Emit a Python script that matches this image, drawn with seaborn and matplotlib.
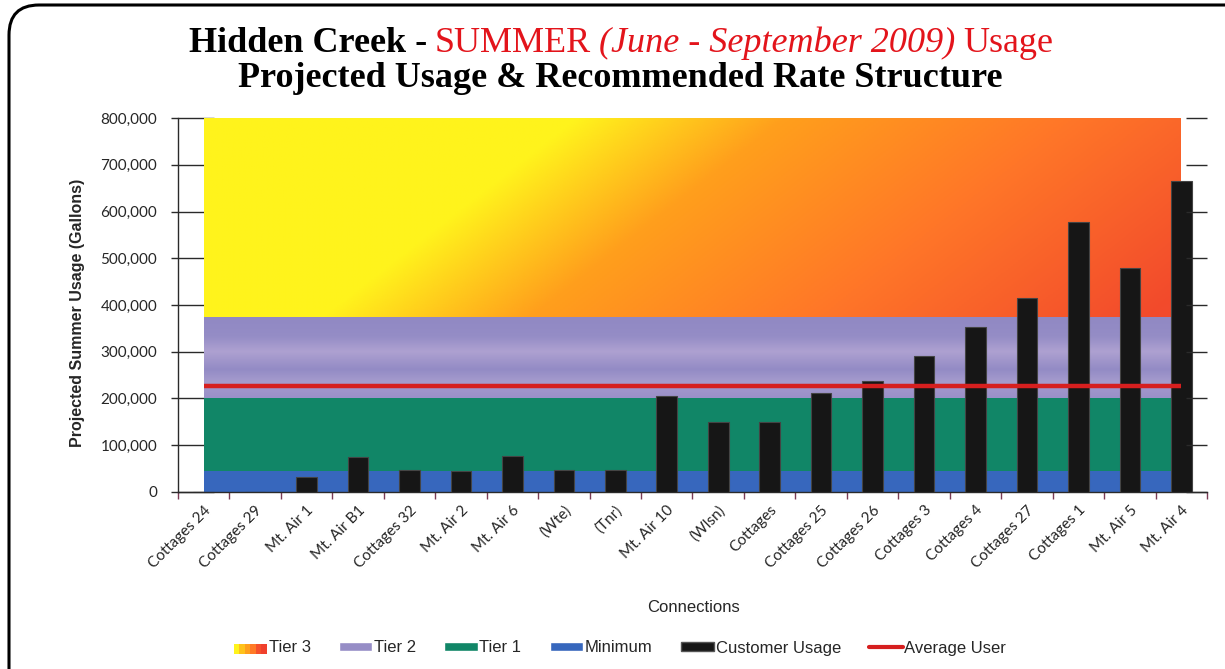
import numpy as np
import matplotlib
matplotlib.use("Agg")
import matplotlib.pyplot as plt
import seaborn as sns
from matplotlib.patches import Patch, Rectangle, FancyBboxPatch
from matplotlib.lines import Line2D
from matplotlib.colors import LinearSegmentedColormap
from matplotlib.legend_handler import HandlerBase

# data
connections = ['Cottages 24', 'Cottages 29', 'Mt. Air 1', 'Mt. Air B1', 'Cottages 32',
               'Mt. Air 2', 'Mt. Air 6', '(Wte)', '(Tnr)', 'Mt. Air 10', '(Wlsn)',
               'Cottages', 'Cottages 25', 'Cottages 26', 'Cottages 3', 'Cottages 4',
               'Cottages 27', 'Cottages 1', 'Mt. Air 5', 'Mt. Air 4']
usage = [0, 0, 33000, 74000, 47000, 44000, 78000, 47000, 47000, 205000, 150000,
         150000, 212000, 238000, 290000, 354000, 414000, 578000, 480000, 666000]

# rate tiers (top of each band, gallons)
minimum_top = 45000
tier1_top = 200000
tier2_top = 375000
tier3_top = 800000
average_user = 227000

yticks = [0, 100000, 200000, 300000, 400000, 500000, 600000, 700000, 800000]

C_MIN = '#3767bd'
C_T1 = '#118667'
C_T2 = '#968dc6'
C_BAR = '#161616'
C_AVG = '#d61f1f'
C_RED = '#e3141b'

sns.set_theme(style='white')
plt.rcParams['font.family'] = ['Lato', 'DejaVu Sans']

fig = plt.figure(figsize=(12.25, 6.69), dpi=100)
ax = fig.add_axes([0.1453, 0.2646, 0.8400, 0.5590])

xs = np.arange(len(connections))
ones = np.ones(len(connections))
polys = ax.stackplot(xs, ones * minimum_top, ones * (tier1_top - minimum_top),
                     ones * (tier2_top - tier1_top), ones * (tier3_top - tier2_top),
                     colors=[C_MIN, C_T1, C_T2, '#ff9a1e'], linewidth=0, zorder=1)

# tier 3: diagonal yellow -> orange -> red gradient
cm3 = LinearSegmentedColormap.from_list('t3', [(0, '#fff31c'), (0.25, '#ff9f1c'),
                                               (0.6, '#ff7628'), (1, '#f24a2c')])
u = np.linspace(0, 1, 400)[None, :]
v = np.linspace(1, 0, 200)[:, None]
s = u - 0.22 - 0.26 * v
t = np.clip((s + 0.1) / 0.85, 0, 1)
im3 = ax.imshow(cm3(t), extent=[xs[0], xs[-1], tier2_top, tier3_top],
                aspect='auto', interpolation='bilinear', zorder=1.5)
im3.set_clip_path(polys[3].get_paths()[0], transform=ax.transData)

# tier 2: soft horizontal stripes
cm2 = LinearSegmentedColormap.from_list('t2', [(0, '#9a90c8'), (0.2, '#a59bcd'),
                                               (0.35, '#938bc5'), (0.57, '#aea1d1'),
                                               (0.75, '#958dc6'), (1, '#9088c3')])
g = np.linspace(1, 0, 200)[:, None] * np.ones((1, 10))
im2 = ax.imshow(cm2(g), extent=[xs[0], xs[-1], tier1_top, tier2_top],
                aspect='auto', interpolation='bilinear', zorder=1.5)
im2.set_clip_path(polys[2].get_paths()[0], transform=ax.transData)

sns.barplot(x=connections, y=usage, color=C_BAR, saturation=1, width=0.4,
            edgecolor='#444444', linewidth=0.8, ax=ax, zorder=3)

ax.plot([xs[0], xs[-1]], [average_user, average_user], color=C_AVG, lw=3.2,
        solid_capstyle='butt', zorder=4)

ax.set_xlim(-0.5, len(connections) - 0.5)
ax.set_ylim(0, tier3_top)
ax.set_yticks(yticks)
ax.set_yticklabels([f'{v:,}' for v in yticks])
ax.set_xticks(xs)
ax.set_xticklabels(connections, rotation=45, ha='right', rotation_mode='anchor')
ax.set_xticks(np.arange(-0.5, len(connections)), minor=True)
ax.set_xlabel('')
ax.set_ylabel('')

for side in ['top', 'right']:
    ax.spines[side].set_visible(False)
for side in ['left', 'bottom']:
    ax.spines[side].set_color('#2a2a2a')
    ax.spines[side].set_linewidth(1.0)

ax.tick_params(axis='y', which='major', direction='in', length=26, width=1,
               color='#2a2a2a', pad=15, labelsize=11, left=True)
ax.tick_params(axis='x', which='major', length=0, pad=8, labelsize=11)
ax.tick_params(axis='x', which='minor', direction='out', length=5, width=1,
               color='#7a3b55', bottom=True)

# short outward part of the left ticks
left_out = ax.secondary_yaxis('left')
left_out.set_yticks(yticks)
left_out.set_yticklabels([])
left_out.spines['left'].set_visible(False)
left_out.tick_params(direction='out', length=5, width=1, color='#2a2a2a', left=True)

ax2 = ax.twinx()
ax2.set_ylim(0, tier3_top)
ax2.set_yticks(yticks)
ax2.set_yticklabels([])
for side in ax2.spines:
    ax2.spines[side].set_visible(False)
ax2.tick_params(axis='y', direction='in', length=15, width=1, color='#2a2a2a', right=True)

fig.text(0.063, 1 - 313 / 669, 'Projected Summer Usage (Gallons)', rotation=90,
         ha='center', va='center', family='Liberation Sans', fontweight='bold', fontsize=11.5)
fig.text(0.566, 1 - 607 / 669, 'Connections', ha='center', va='center',
         family='Liberation Sans', fontsize=12)


# legend
class GradientHandler(HandlerBase):
    def create_artists(self, legend, orig, xd, yd, w, h, fontsize, trans):
        cols = ['#fff31c', '#ffc21a', '#ff9f1c', '#ff7a26', '#f5502c', '#f0402c']
        n = len(cols)
        return [Rectangle((xd + w * i / n, yd), w / n, h, facecolor=c, edgecolor='none',
                          transform=trans) for i, c in enumerate(cols)]


handles = [Patch(facecolor='#ff9a1e'), Patch(facecolor=C_T2), Patch(facecolor=C_T1),
           Patch(facecolor=C_MIN), Patch(facecolor=C_BAR, edgecolor='#555555'),
           Line2D([], [], color=C_AVG, lw=3)]
labels = ['Tier 3', 'Tier 2', 'Tier 1', 'Minimum', 'Customer Usage', 'Average User']
fig.legend(handles, labels, loc='center', bbox_to_anchor=(0.506, 1 - 648 / 669), ncol=6,
           frameon=False, prop={'family': 'Liberation Sans', 'size': 12},
           handlelength=2.0, handleheight=0.5, handletextpad=0.1, columnspacing=1.7,
           handler_map={handles[0]: GradientHandler()})


# two-line title with mixed colours
def title_line(pieces, xc, y, size):
    renderer = fig.canvas.get_renderer()
    texts = []
    for txt, col, style, weight in pieces:
        texts.append(fig.text(0, y, txt, color=col, fontstyle=style, fontweight=weight,
                              fontsize=size, family='Liberation Serif', va='baseline'))
    widths = [tt.get_window_extent(renderer).width for tt in texts]
    gap = size * 0.3
    total = sum(widths) + gap * (len(texts) - 1)
    x = xc * 1225 - total / 2
    for tt, wd in zip(texts, widths):
        tt.set_x(x / 1225)
        x += wd + gap


title_line([('Hidden Creek -', 'black', 'normal', 'bold'),
            ('SUMMER', C_RED, 'normal', 'normal'),
            ('(June - September 2009)', C_RED, 'italic', 'normal'),
            ('Usage', C_RED, 'normal', 'normal')], 621 / 1225, 1 - 52 / 669, 26)
title_line([('Projected Usage & Recommended Rate Structure', 'black', 'normal', 'bold')],
           620 / 1225, 1 - 87 / 669, 26)

frame = FancyBboxPatch((0.09, -0.5), 13.0, 7.14, boxstyle='round,pad=0,rounding_size=0.3',
                       transform=fig.dpi_scale_trans, facecolor='none', edgecolor='black',
                       linewidth=2.2)
fig.add_artist(frame)

fig.savefig('out.png', dpi=100)
